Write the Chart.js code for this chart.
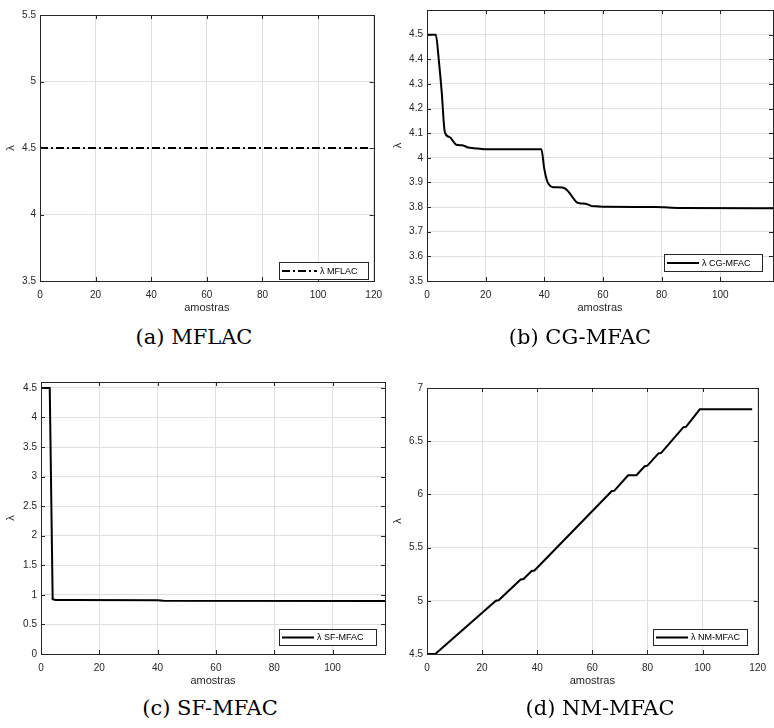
<!DOCTYPE html>
<html>
<head>
<meta charset="utf-8">
<script src="https://cdn.jsdelivr.net/npm/chart.js@4.4.0/dist/chart.umd.min.js"></script>
<style>
body { margin: 0; width: 774px; height: 728px; background: #fff; position: relative; overflow: hidden; }
.plot { position: absolute; }
.cap { position: absolute; width: 300px; text-align: center; font-family: "DejaVu Serif", serif; font-size: 21px; color: #000; }
</style>
</head>
<body>
<div class="plot" style="left:0;top:0;width:390px;height:320px"><canvas id="chartA"></canvas></div>
<div class="plot" style="left:387px;top:0;width:387px;height:320px"><canvas id="chartB"></canvas></div>
<div class="plot" style="left:0;top:372px;width:390px;height:321px"><canvas id="chartC"></canvas></div>
<div class="plot" style="left:387px;top:372px;width:387px;height:321px"><canvas id="chartD"></canvas></div>
<div class="cap" style="left:44px;top:325px">(a) MFLAC</div>
<div class="cap" style="left:430px;top:325px">(b) CG-MFAC</div>
<div class="cap" style="left:60px;top:696px">(c) SF-MFAC</div>
<div class="cap" style="left:450px;top:696px">(d) NM-MFAC</div>
<script>
// lambda values (x = amostras)
var mflacX = [0, 118];
var mflacY = [4.5, 4.5];

var cgX = [0, 3, 4, 5, 6, 7, 8, 9, 10, 12, 13, 14, 16, 18, 20, 39, 40, 41, 42, 43, 46, 47, 48, 49, 50, 51, 52, 54, 55, 56, 58, 61, 78, 81, 87, 118];
var cgY = [4.5, 4.5, 4.4, 4.27, 4.11, 4.088, 4.082, 4.066, 4.053, 4.051, 4.047, 4.042, 4.039, 4.037, 4.035, 4.035, 3.955, 3.905, 3.886, 3.881, 3.88, 3.876, 3.866, 3.851, 3.834, 3.82, 3.816, 3.814, 3.81, 3.805, 3.803, 3.801, 3.8, 3.799, 3.796, 3.795];

var sfX = [0, 3, 4, 5, 10, 40, 42, 118];
var sfY = [4.5, 4.5, 0.925, 0.915, 0.912, 0.91, 0.9, 0.895];

var nmX = [0, 3, 25, 26, 34, 35, 38, 39, 67, 68, 73, 76, 79, 80, 84, 85, 93, 94, 99, 118];
var nmY = [4.5, 4.5, 5.0, 5.005, 5.2, 5.205, 5.28, 5.285, 6.03, 6.035, 6.18, 6.18, 6.265, 6.27, 6.385, 6.39, 6.63, 6.635, 6.8, 6.8];

var axisColor = '#262626';
var gridColor = '#dfdfdf';
Chart.defaults.font.family = '"Liberation Sans", Arial, sans-serif';
Chart.defaults.color = axisColor;

function fmt(v) { return String(Math.round(v * 100) / 100); }

// matlab style box, inward ticks and legend inside the axes
var matlabBox = {
  id: 'matlabBox',
  afterDraw: function(chart, args, o) {
    var ctx = chart.ctx, a = chart.chartArea;
    var sx = chart.scales.x, sy = chart.scales.y;
    ctx.save();
    ctx.strokeStyle = axisColor;
    ctx.lineWidth = 1;
    ctx.strokeRect(Math.round(a.left) + 0.5, Math.round(a.top) + 0.5, Math.round(a.right - a.left), Math.round(a.bottom - a.top));
    ctx.beginPath();
    sx.ticks.forEach(function(t) {
      var p = Math.round(sx.getPixelForValue(t.value)) + 0.5;
      ctx.moveTo(p, a.bottom); ctx.lineTo(p, a.bottom - 4);
      ctx.moveTo(p, a.top); ctx.lineTo(p, a.top + 4);
    });
    sy.ticks.forEach(function(t) {
      var p = Math.round(sy.getPixelForValue(t.value)) + 0.5;
      ctx.moveTo(a.left, p); ctx.lineTo(a.left + 4, p);
      ctx.moveTo(a.right, p); ctx.lineTo(a.right - 4, p);
    });
    ctx.stroke();

    var ds = chart.data.datasets[0];
    var bx = Math.round(a.right - o.gapRight - o.w), by = Math.round(a.bottom - o.gapBottom - o.h);
    ctx.fillStyle = '#fff';
    ctx.fillRect(bx, by, o.w, o.h);
    ctx.strokeRect(bx + 0.5, by + 0.5, o.w, o.h);
    ctx.strokeStyle = '#000';
    ctx.lineWidth = 2;
    ctx.setLineDash(ds.borderDash || []);
    ctx.beginPath();
    ctx.moveTo(bx + 3, by + o.h / 2 + 0.5);
    ctx.lineTo(bx + 3 + o.lineLen, by + o.h / 2 + 0.5);
    ctx.stroke();
    ctx.setLineDash([]);
    ctx.fillStyle = '#000';
    ctx.font = '9px "Liberation Sans", Arial, sans-serif';
    ctx.textBaseline = 'middle';
    ctx.fillText(ds.label, bx + 6 + o.lineLen, by + o.h / 2 + 1);
    ctx.restore();
  }
};

function makeChart(id, xs, ys, c) {
  var pts = xs.map(function(x, i) { return { x: x, y: ys[i] }; });
  return new Chart(document.getElementById(id), {
    type: 'line',
    data: {
      datasets: [{
        label: c.label,
        data: pts,
        borderColor: '#000',
        borderWidth: 2,
        borderDash: c.dash || [],
        pointRadius: 0,
        fill: false,
        cubicInterpolationMode: c.smooth ? 'monotone' : 'default',
        tension: 0
      }]
    },
    options: {
      responsive: true,
      maintainAspectRatio: false,
      animation: false,
      layout: { padding: { top: c.padTop, right: c.padRight, left: 0, bottom: 0 } },
      plugins: {
        legend: { display: false },
        tooltip: { enabled: false },
        matlabBox: c.legend
      },
      scales: {
        x: {
          type: 'linear',
          min: 0,
          max: c.xMax,
          ticks: { stepSize: 20, includeBounds: false, font: { size: 10 }, padding: 8, maxRotation: 0, callback: fmt },
          grid: { color: gridColor, drawTicks: false },
          border: { color: axisColor },
          title: { display: true, text: 'amostras', font: { size: 11 }, padding: { top: 0, bottom: 5 } },
          afterFit: function(s) { s.height = c.xHeight; }
        },
        y: {
          type: 'linear',
          min: c.yMin,
          max: c.yMax,
          ticks: { stepSize: c.yStep, includeBounds: false, font: { size: 10 }, padding: 4, callback: fmt },
          grid: { color: gridColor, drawTicks: false },
          border: { color: axisColor },
          title: { display: true, text: 'λ', font: { size: 11 }, padding: { top: 4, bottom: 0 } },
          afterBuildTicks: function(s) {
            s.ticks = s.ticks.filter(function(t) { return t.value <= c.yTickMax + 1e-9; });
          },
          afterFit: function(s) { s.width = c.yWidth; }
        }
      }
    },
    plugins: [matlabBox]
  });
}

var chartA = makeChart('chartA', mflacX, mflacY, {
  label: 'λ MFLAC', dash: [8, 3, 2, 3], xMax: 120, yMin: 3.5, yMax: 5.5, yStep: 0.5, yTickMax: 5.5,
  padTop: 15, padRight: 12, yWidth: 40, xHeight: 39,
  legend: { w: 89, h: 17, gapRight: 6, gapBottom: 2, lineLen: 35 }
});
var chartB = makeChart('chartB', cgX, cgY, {
  label: 'λ CG-MFAC', smooth: true, xMax: 118, yMin: 3.5, yMax: 4.6, yStep: 0.1, yTickMax: 4.5,
  padTop: 8, padRight: 1, yWidth: 40, xHeight: 39,
  legend: { w: 98, h: 17, gapRight: 11, gapBottom: 10, lineLen: 32 }
});
var chartC = makeChart('chartC', sfX, sfY, {
  label: 'λ SF-MFAC', xMax: 118, yMin: 0, yMax: 4.6, yStep: 0.5, yTickMax: 4.5,
  padTop: 10, padRight: 5, yWidth: 41, xHeight: 39,
  legend: { w: 97, h: 16, gapRight: 9, gapBottom: 9, lineLen: 32 }
});
var chartD = makeChart('chartD', nmX, nmY, {
  label: 'λ NM-MFAC', xMax: 120, yMin: 4.5, yMax: 7, yStep: 0.5, yTickMax: 7,
  padTop: 16, padRight: 10, yWidth: 40, xHeight: 39,
  legend: { w: 94, h: 16, gapRight: 11, gapBottom: 9, lineLen: 32 }
});
</script>
</body>
</html>
